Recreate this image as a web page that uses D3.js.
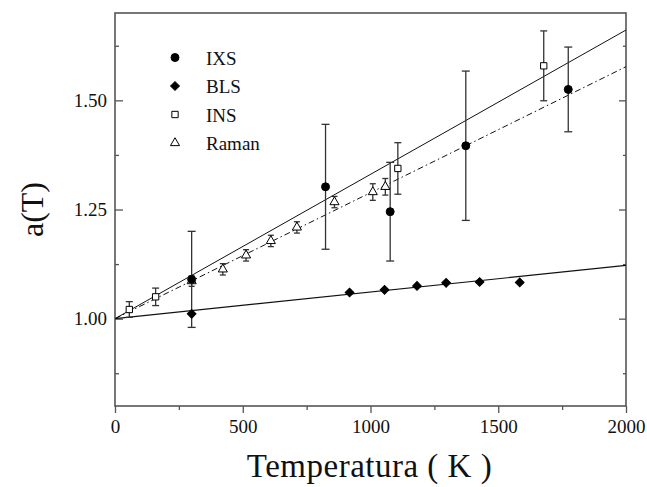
<!DOCTYPE html>
<html>
<head>
<meta charset="utf-8">
<script src="https://cdn.jsdelivr.net/npm/d3@7"></script>
<style>
  body { margin: 0; background: #fff; }
  svg { display: block; }
</style>
</head>
<body>
<svg id="chart" width="647" height="487"></svg>
<script>
// IXS (filled circles, with error bars)
const ixsT = [300, 824, 1077, 1373, 1774]
const ixsA = [1.09, 1.302, 1.245, 1.396, 1.525]
const ixsErr = [0.11, 0.143, 0.113, 0.171, 0.097]

// BLS (filled diamonds)
const blsT = [300, 918, 1055, 1182, 1296, 1427, 1584]
const blsA = [1.011, 1.060, 1.066, 1.075, 1.082, 1.084, 1.083]

// INS (open squares)
const insT = [56, 159, 1107, 1678]
const insA = [1.021, 1.050, 1.344, 1.579]
const insErr = [0.018, 0.02, 0.059, 0.08]

// Raman (open triangles)
const ramanT = [300, 422, 513, 610, 712, 859, 1009, 1058]
const ramanA = [1.086, 1.113, 1.145, 1.178, 1.209, 1.267, 1.290, 1.302]
const ramanErr = [0.012, 0.013, 0.013, 0.013, 0.013, 0.013, 0.019, 0.019]

// linear fits
const fitT = [0, 2000]
const fitUpper = [1.0, 1.661]
const fitDashDot = [1.0, 1.577]
const fitLower = [1.0, 1.122]

const xTicks = [0, 500, 1000, 1500, 2000]
const yTicks = [1.00, 1.25, 1.50]
const legendNames = ['IXS', 'BLS', 'INS', 'Raman']

const xAxisLabel = 'Temperatura ( K )'
const yAxisLabel = 'a(T)'

const serif = "'Liberation Serif', 'Times New Roman', Times, serif"

const svg = d3.select('#chart')
const width = +svg.attr('width')
const height = +svg.attr('height')
const margin = { top: 13, right: 21, bottom: 81, left: 115 }
const innerWidth = width - margin.left - margin.right
const innerHeight = height - margin.top - margin.bottom

const xScale = d3.scaleLinear().domain([0, 2000]).range([0, innerWidth])
const yScale = d3.scaleLinear().domain([0.8, 1.7]).range([innerHeight, 0])

const g = svg.append('g').
  attr('transform', `translate(${margin.left},${margin.top})`)

const axisColor = '#555'

// x axis: ticks outward
const xMinor = d3.range(250, 2000, 500)
const xAxisG = g.append('g').
  call(d3.axisBottom(xScale).tickValues(xTicks).tickSize(7).tickPadding(6).tickFormat(d3.format('d'))).
  attr('transform', `translate(0,${innerHeight})`)
xAxisG.selectAll('.tick text').attr('dy', '0.72em')
g.append('g').
  call(d3.axisBottom(xScale).tickValues(xMinor).tickSize(4)).
  attr('transform', `translate(0,${innerHeight})`).
  selectAll('.tick text').remove()

// y axis: ticks inward
const yMinor = [0.875, 1.125, 1.375, 1.625]
g.append('g').
  call(d3.axisLeft(yScale).tickValues(yTicks).tickSize(-8).tickPadding(8).tickFormat(d3.format('.2f')))
g.append('g').call(d3.axisLeft(yScale).tickValues(yMinor).tickSize(-4)).
  selectAll('.tick text').remove()

// right side ticks, no labels
g.append('g').attr('transform', `translate(${innerWidth},0)`).
  call(d3.axisRight(yScale).tickValues(yTicks).tickSize(-7)).
  selectAll('.tick text').remove()
g.append('g').attr('transform', `translate(${innerWidth},0)`).
  call(d3.axisRight(yScale).tickValues(yMinor).tickSize(-3)).
  selectAll('.tick text').remove()

g.selectAll('.domain').remove()
g.selectAll('.tick line').attr('stroke', axisColor).attr('stroke-width', 1.3)
g.selectAll('.tick text').
  attr('fill', '#111').
  style('font-family', serif).
  style('font-size', '19px')

// frame
g.append('rect').
  attr('width', innerWidth).
  attr('height', innerHeight).
  attr('fill', 'none').
  attr('stroke', axisColor).
  attr('stroke-width', 1.6)

// axis titles
svg.append('text').
  attr('x', margin.left + innerWidth / 2 - 1).
  attr('y', 477).
  attr('text-anchor', 'middle').
  attr('fill', '#111').
  style('font-family', serif).
  style('font-size', '33px').
  style('letter-spacing', '0.5px').
  text(xAxisLabel)

svg.append('text').
  attr('transform', `translate(43,${margin.top + yScale(1.25)}) rotate(-90)`).
  attr('text-anchor', 'middle').
  attr('fill', '#111').
  style('font-family', serif).
  style('font-size', '32px').
  text(yAxisLabel)

// fit lines
const line = d3.line().x(d => xScale(d[0])).y(d => yScale(d[1]))
g.append('clipPath').attr('id', 'clip').append('rect').
  attr('width', innerWidth).attr('height', innerHeight)
const lines = g.append('g').attr('clip-path', 'url(#clip)')
lines.append('path').attr('d', line(d3.zip(fitT, fitUpper))).
  attr('fill', 'none').attr('stroke', '#111').attr('stroke-width', 1)
lines.append('path').attr('d', line(d3.zip(fitT, fitDashDot))).
  attr('fill', 'none').attr('stroke', '#111').attr('stroke-width', 1).
  attr('stroke-dasharray', '6,3,1.5,3')
lines.append('path').attr('d', line(d3.zip(fitT, fitLower))).
  attr('fill', 'none').attr('stroke', '#111').attr('stroke-width', 1.2)

// error bars
const errorBars = (ts, as, errs, cap) => {
  const eg = g.append('g').attr('stroke', '#333').attr('stroke-width', 1.3)
  ts.forEach((t, i) => {
    const x = xScale(t)
    const y0 = yScale(as[i] - errs[i])
    const y1 = yScale(as[i] + errs[i])
    eg.append('line').attr('x1', x).attr('x2', x).attr('y1', y0).attr('y2', y1)
    eg.append('line').attr('x1', x - cap / 2).attr('x2', x + cap / 2).attr('y1', y0).attr('y2', y0)
    eg.append('line').attr('x1', x - cap / 2).attr('x2', x + cap / 2).attr('y1', y1).attr('y2', y1)
  })
}
errorBars(ramanT, ramanA, ramanErr, 6)
errorBars(insT, insA, insErr, 7)
errorBars(ixsT, ixsA, ixsErr, 8)

// markers
const symbols = {
  IXS: { type: d3.symbolCircle, size: 50, fill: '#000', rotate: 0 },
  BLS: { type: d3.symbolSquare, size: 38, fill: '#000', rotate: 45 },
  INS: { type: d3.symbolSquare, size: 40, fill: '#fff', rotate: 0 },
  Raman: { type: d3.symbolTriangle, size: 36, fill: '#fff', rotate: 0 },
}

const drawMarkers = (ts, as, name) => {
  const s = symbols[name]
  g.append('g').selectAll('path').
    data(d3.zip(ts, as)).
    enter().
    append('path').
    attr('d', d3.symbol().type(s.type).size(s.size)).
    attr('transform', d => `translate(${xScale(d[0])},${yScale(d[1])}) rotate(${s.rotate})`).
    attr('fill', s.fill).
    attr('stroke', '#000').
    attr('stroke-width', 1)
}
drawMarkers(ramanT, ramanA, 'Raman')
drawMarkers(insT, insA, 'INS')
drawMarkers(blsT, blsA, 'BLS')
drawMarkers(ixsT, ixsA, 'IXS')

// legend
const legend = svg.append('g').attr('transform', 'translate(175,57.5)')
const rows = legend.selectAll('g').
  data(legendNames).
  enter().
  append('g').
  attr('transform', (d, i) => `translate(0,${i * 28.5})`)
rows.append('path').
  attr('d', d => d3.symbol().type(symbols[d].type).size(symbols[d].size)()).
  attr('transform', d => `rotate(${symbols[d].rotate})`).
  attr('fill', d => symbols[d].fill).
  attr('stroke', '#000')
rows.append('text').
  attr('x', 31).
  attr('dy', '0.38em').
  attr('fill', '#111').
  style('font-family', serif).
  style('font-size', '19px').
  text(d => d)
</script>
</body>
</html>
